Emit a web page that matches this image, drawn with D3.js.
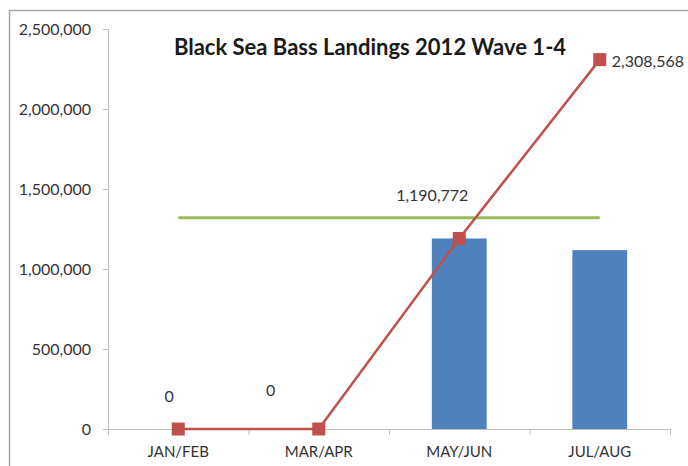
<!DOCTYPE html>
<html>
<head>
<meta charset="utf-8">
<script src="https://cdn.jsdelivr.net/npm/d3@7"></script>
<style>
  html, body { margin: 0; padding: 0; background: #fff; }
  svg { display: block; }
  text { font-family: Lato, "Noto Sans", sans-serif; }
</style>
</head>
<body>
<svg id="chart" width="688" height="466"></svg>
<script>
// Two-month survey waves
const waves = ["JAN/FEB", "MAR/APR", "MAY/JUN", "JUL/AUG"];
// Landings per wave (lbs)
const waveLandings = [0, 0, 1190772, 1117796];
// Running total of landings through each wave
const cumulativeLandings = [0, 0, 1190772, 2308568];
// Recreational harvest limit
const harvestLimit = [1320000, 1320000, 1320000, 1320000];
// Y axis ticks
const yTicks = [0, 500000, 1000000, 1500000, 2000000, 2500000];

const svg = d3.select("#chart");
const fmt = d3.format(",");

const plotLeft = 108, plotRight = 670, plotTop = 29, plotBottom = 429;

const x = d3.scaleBand().domain(waves).range([plotLeft, plotRight]).padding(0);
const y = d3.scaleLinear().domain([0, 2500000]).range([plotBottom, plotTop]);
const cx = d => x(d) + x.bandwidth() / 2;

// outer frame (top and left edges)
svg.append("path")
  .attr("d", "M9.5,466 V10.5 H688")
  .attr("fill", "none").attr("stroke", "#a6a6a6").attr("stroke-width", 1.5);

// y axis
const yAxis = d3.axisLeft(y).tickValues(yTicks).tickFormat(fmt).tickSize(5).tickPadding(12);
const gy = svg.append("g").attr("transform", `translate(${plotLeft},0)`).call(yAxis);
gy.select(".domain").attr("stroke", "#bfbfbf").attr("d", `M-5,${y(2500000) + 0.5}H0.5V${plotBottom + 0.5}`);
gy.selectAll(".tick line").attr("stroke", "#bfbfbf");
gy.selectAll(".tick text").attr("font-size", 16).attr("fill", "#333")
  .style("font-family", "Lato, 'Noto Sans', sans-serif");

// x axis with tick marks at band edges
const gx = svg.append("g").attr("transform", `translate(0,${plotBottom})`);
gx.append("line").attr("x1", plotLeft).attr("x2", plotRight + 1).attr("y1", 0.5).attr("y2", 0.5)
  .attr("stroke", "#bfbfbf");
gx.selectAll("line.edge").data(waves.map(w => x(w) + x.bandwidth()).concat([plotLeft]))
  .join("line").attr("class", "edge")
  .attr("x1", d => d + 0.5).attr("x2", d => d + 0.5).attr("y1", 0).attr("y2", 6)
  .attr("stroke", "#bfbfbf");
gx.selectAll("text").data(waves).join("text")
  .attr("x", d => cx(d)).attr("y", 28)
  .attr("text-anchor", "middle").attr("font-size", 15).attr("fill", "#333")
  .text(d => d);

// bars
const barW = x.bandwidth() * 0.39;
svg.append("g").selectAll("rect").data(waves.map((w, i) => ({ w, v: waveLandings[i] })))
  .join("rect")
  .attr("x", d => cx(d.w) - barW / 2)
  .attr("width", barW)
  .attr("y", d => y(d.v))
  .attr("height", d => plotBottom - y(d.v))
  .attr("fill", "#4f81bd");

// harvest limit line
const line = d3.line().x(d => cx(d.w)).y(d => y(d.v));
svg.append("path")
  .datum(waves.map((w, i) => ({ w, v: harvestLimit[i] })))
  .attr("d", line).attr("fill", "none").attr("stroke", "#9bbb59").attr("stroke-width", 3);

// cumulative landings line with square markers
const cum = waves.map((w, i) => ({ w, v: cumulativeLandings[i] }));
svg.append("path").datum(cum)
  .attr("d", line).attr("fill", "none").attr("stroke", "#c0504d").attr("stroke-width", 2.5);
svg.append("g").selectAll("rect").data(cum).join("rect")
  .attr("x", d => cx(d.w) - 6.5).attr("y", d => y(d.v) - 6.5)
  .attr("width", 13).attr("height", 13).attr("fill", "#c0504d");

// value labels
const labelStyle = s => s.attr("font-size", 16).attr("fill", "#333");
// bar labels for the first three waves
const barLabelNudge = [[-9, -27], [-48, -33], [-27, -37]];
svg.append("g").selectAll("text").data(barLabelNudge)
  .join("text")
  .attr("x", (d, i) => cx(waves[i]) + d[0])
  .attr("y", (d, i) => y(waveLandings[i]) + d[1])
  .attr("text-anchor", "middle")
  .call(labelStyle)
  .text((d, i) => fmt(waveLandings[i]));
// season total label at the last point
svg.append("text")
  .attr("x", cx(waves[3]) + 12).attr("y", y(cumulativeLandings[3]) + 7)
  .call(labelStyle)
  .text(fmt(cumulativeLandings[3]));

// title
svg.append("text")
  .attr("x", 370).attr("y", 55)
  .attr("text-anchor", "middle").attr("font-size", 22).attr("font-weight", "bold")
  .attr("fill", "#1a1a1a")
  .text("Black Sea Bass Landings 2012 Wave 1-4");
</script>
</body>
</html>
